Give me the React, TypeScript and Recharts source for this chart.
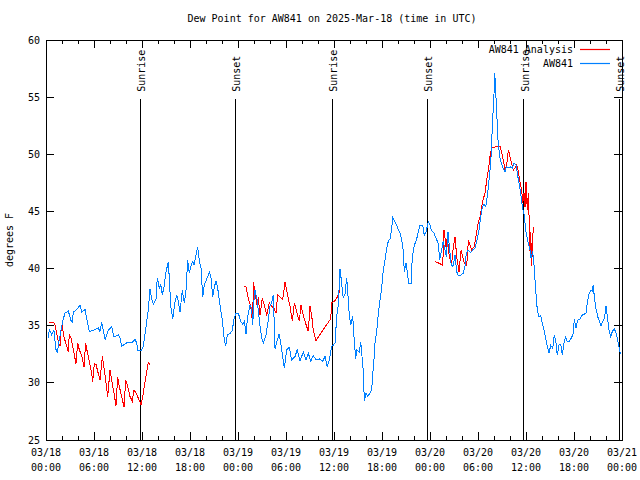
import React from "react";
import {
  LineChart,
  Line,
  XAxis,
  YAxis,
  Legend,
  ReferenceLine,
  ReferenceArea,
} from "recharts";

// hours since 03/18 00:00 UTC, dew point (F)
const aw841Mar18: [number, number][] = [
  [0.29, 33.9], [0.41, 34.7], [0.71, 34.2], [1.0, 34.6], [1.21, 33.0], [1.41, 32.6], [1.66, 33.8], [1.88, 34.6],
  [2.16, 35.6], [2.38, 36.1], [2.79, 36.3], [3.09, 35.5], [3.29, 35.3], [3.41, 36.2], [3.84, 36.4], [4.25, 36.8],
  [4.46, 36.2], [4.88, 36.4], [5.09, 35.6], [5.41, 34.5], [5.91, 34.6], [6.54, 34.8], [6.75, 34.5], [6.96, 35.3],
  [7.38, 33.8], [7.79, 34.6], [8.21, 34.9], [8.5, 34.0], [9.04, 34.2], [9.25, 33.9], [9.46, 33.2], [10.09, 33.5],
  [10.71, 33.5], [11.13, 33.8], [11.34, 33.5], [11.46, 32.8], [11.88, 32.8], [12.16, 33.2], [12.5, 34.9], [12.79, 36.4],
  [13.0, 38.2], [13.21, 37.3], [13.41, 36.9], [13.75, 37.3], [13.91, 39.2], [14.16, 38.3], [14.34, 38.6], [14.54, 37.7],
  [14.75, 38.4], [15.0, 39.7], [15.29, 40.6], [15.41, 39.2], [15.59, 36.7], [15.84, 35.6], [16.13, 37.1], [16.34, 37.7],
  [16.54, 37.1], [16.75, 36.2], [17.04, 38.1], [17.29, 37.0], [17.5, 38.1], [17.71, 40.75], [17.91, 39.6], [18.09, 40.2],
  [18.34, 40.6], [18.5, 40.3], [18.75, 41.2], [18.96, 41.9], [19.16, 40.75], [19.38, 40.0], [19.59, 37.5], [19.79, 38.6],
  [20.0, 38.9], [20.21, 39.3], [20.41, 39.7], [20.63, 39.2], [20.84, 37.5], [21.04, 38.4], [21.25, 38.9], [21.46, 38.3],
  [21.75, 36.8], [22.04, 35.5], [22.25, 34.0], [22.46, 33.2], [22.66, 34.2], [23.0, 34.3], [23.29, 34.6], [23.5, 35.6],
  [23.75, 36.1],
];

const aw841Mar19: [number, number][] = [
  [24.04, 36.1], [24.34, 35.4], [24.59, 35.1], [24.79, 35.4], [25.0, 34.3], [25.21, 35.8], [25.5, 36.8], [25.71, 36.5],
  [25.84, 35.1], [26.04, 37.8], [26.13, 38.1], [26.41, 37.2], [26.66, 35.5], [26.96, 33.9], [27.16, 33.5], [27.5, 34.2],
  [27.79, 35.5], [28.0, 36.7], [28.21, 37.0], [28.41, 37.7], [28.63, 33.0], [28.84, 33.6], [29.16, 34.3], [29.46, 32.9],
  [29.79, 31.3], [30.09, 32.9], [30.41, 33.1], [30.71, 32.0], [31.13, 32.3], [31.41, 32.9], [31.75, 31.9], [32.16, 32.7],
  [32.5, 32.0], [32.79, 32.6], [33.09, 31.9], [33.41, 32.4], [33.75, 32.0], [34.16, 32.1], [34.59, 31.9], [34.88, 32.3],
  [35.16, 31.4], [35.41, 32.0], [35.71, 33.2], [35.91, 33.3], [36.13, 33.5], [36.34, 35.8], [36.54, 36.8], [36.75, 40.0],
  [36.96, 38.7], [37.16, 37.4], [37.38, 37.8], [37.59, 39.2], [37.79, 37.2], [37.91, 35.9], [38.09, 35.1], [38.34, 35.8],
  [38.5, 34.0], [38.71, 32.1], [38.84, 32.9], [39.16, 32.7], [39.34, 33.6], [39.54, 32.0], [39.66, 31.0], [39.79, 28.4],
  [40.0, 29.1], [40.21, 28.8], [40.5, 29.1], [40.71, 29.4], [40.84, 30.7], [41.0, 32.1], [41.13, 33.5], [41.34, 34.5],
  [41.54, 36.1], [41.75, 37.2], [41.96, 38.3], [42.16, 39.9], [42.38, 40.75], [42.59, 41.8], [42.79, 42.4], [43.0, 42.6],
  [43.21, 43.5], [43.34, 44.5], [43.63, 44.1], [43.84, 43.8], [44.04, 43.4], [44.25, 43.1], [44.46, 42.5], [44.66, 41.6],
  [44.79, 39.7], [45.0, 40.5], [45.16, 39.7], [45.34, 38.7], [45.63, 38.7], [45.75, 40.5], [45.91, 41.6], [46.13, 42.2],
  [46.34, 42.6], [46.54, 43.2], [46.75, 43.8], [47.09, 43.8], [47.29, 42.9], [47.5, 43.2], [47.79, 44.1],
];

const aw841Mar20: [number, number][] = [
  [48.0, 43.8], [48.21, 43.3], [48.5, 43.1], [48.79, 42.6], [49.04, 42.2], [49.21, 40.75], [49.41, 41.5], [49.66, 42.4],
  [49.88, 41.6], [50.04, 41.0], [50.25, 43.2], [50.46, 41.6], [50.66, 40.3], [50.88, 40.2], [51.13, 41.2], [51.34, 39.7],
  [51.54, 39.4], [51.84, 39.4], [52.16, 39.6], [52.38, 40.2], [52.54, 41.4], [52.79, 41.6], [53.09, 41.4], [53.29, 41.6],
  [53.63, 41.8], [53.91, 42.6], [54.13, 43.4], [54.34, 44.5], [54.54, 45.4], [54.75, 45.6], [54.96, 45.4], [55.16, 46.3],
  [55.38, 47.75], [55.59, 49.2], [55.79, 52.4], [56.0, 55.3], [56.09, 57.1], [56.21, 55.6], [56.34, 53.6], [56.5, 51.25],
  [56.71, 49.8], [56.91, 49.2], [57.13, 48.8], [57.38, 48.5], [57.54, 48.9], [57.79, 48.8], [58.09, 48.9], [58.29, 48.8],
  [58.5, 49.2], [58.79, 49.05], [58.91, 48.3], [59.13, 47.5], [59.34, 46.6], [59.54, 45.4], [59.75, 44.8], [59.96, 43.4],
  [60.16, 42.6], [60.5, 41.6], [60.63, 40.9], [60.84, 41.5], [61.0, 40.3], [61.21, 38.1], [61.41, 36.4], [61.63, 35.8],
  [61.84, 35.9], [62.04, 35.2], [62.25, 34.6], [62.46, 33.9], [62.66, 33.2], [62.88, 32.6], [63.09, 33.3], [63.34, 33.0],
  [63.54, 34.2], [63.75, 33.5], [63.91, 32.4], [64.13, 33.3], [64.34, 33.4], [64.54, 32.4], [64.75, 33.5], [64.96, 34.0],
  [65.16, 33.6], [65.41, 33.6], [65.71, 34.0], [65.91, 34.3], [66.04, 35.6], [66.25, 34.8], [66.46, 35.5], [66.75, 35.6],
  [66.96, 35.9], [67.25, 36.0], [67.5, 36.1], [67.66, 37.0], [67.88, 37.8], [68.09, 38.1], [68.29, 38.0], [68.41, 38.6],
  [68.54, 37.5], [68.75, 36.5], [68.96, 35.8], [69.16, 35.4], [69.38, 35.0], [69.59, 35.4], [69.79, 35.6], [70.0, 36.7],
  [70.16, 35.8], [70.38, 34.6], [70.59, 34.0], [70.79, 34.5], [71.04, 34.7], [71.25, 34.4], [71.41, 33.9], [71.59, 33.3],
  [71.75, 32.7], [71.9, 32.5],
];

// analysis runs (three separate pieces, gaps between them)
const analysisRun1: [number, number][] = [
  [0.38, 35.3], [0.84, 35.3], [1.09, 35.2], [1.34, 34.3], [1.54, 33.6], [1.75, 33.2], [1.88, 34.6], [2.04, 34.9],
  [2.25, 34.0], [2.59, 33.2], [2.79, 32.7], [2.91, 34.3], [3.13, 33.9], [3.41, 32.9], [3.75, 31.7], [3.96, 33.5],
  [4.16, 32.9], [4.46, 32.4], [4.75, 31.4], [4.96, 33.5], [5.16, 32.7], [5.41, 31.9], [5.71, 30.8], [5.84, 30.1],
  [6.04, 31.7], [6.25, 31.6], [6.54, 30.8], [6.75, 30.25], [7.04, 32.3], [7.25, 31.3], [7.46, 30.25], [7.71, 28.8],
  [8.0, 31.1], [8.21, 30.25], [8.5, 29.1], [8.75, 28.0], [8.96, 30.5], [9.16, 29.7], [9.46, 28.8], [9.75, 27.9],
  [9.96, 30.25], [10.21, 29.7], [10.5, 28.8], [10.79, 28.4], [11.0, 29.4], [11.34, 29.0], [11.63, 28.5], [11.88, 28.1],
  [12.09, 28.8], [12.38, 30.1], [12.59, 31.0], [12.79, 31.8], [13.0, 31.6],
];

const analysisRun2: [number, number][] = [
  [24.79, 38.4], [25.0, 38.4], [25.29, 37.4], [25.59, 36.7], [25.84, 35.1], [25.91, 38.8], [26.13, 38.1], [26.34, 36.8],
  [26.54, 37.5], [26.75, 35.9], [27.04, 37.4], [27.29, 36.8], [27.59, 35.9], [27.91, 37.0], [28.21, 36.7], [28.5, 36.5],
  [28.75, 36.1], [28.96, 37.7], [29.59, 37.3], [29.88, 38.8], [30.16, 37.8], [30.5, 36.7], [30.79, 35.4], [31.04, 37.0],
  [31.34, 36.2], [31.66, 35.4], [31.88, 36.8], [32.16, 35.9], [32.5, 35.1], [32.79, 34.5], [33.0, 36.7], [33.21, 35.9],
  [33.41, 34.6], [33.75, 33.7], [34.04, 34.0], [34.59, 34.6], [35.09, 35.1], [35.59, 35.6], [35.71, 37.0], [36.13, 37.2],
  [36.41, 37.5], [36.75, 38.1],
];

const analysisRun3: [number, number][] = [
  [48.63, 40.6], [49.04, 40.5], [49.59, 40.3], [49.75, 43.4], [50.0, 41.9], [50.16, 42.8], [50.41, 41.0], [50.71, 40.5],
  [50.91, 41.8], [51.13, 42.8], [51.34, 41.0], [51.63, 39.7], [51.88, 41.6], [52.09, 41.0], [52.29, 40.5], [52.59, 40.3],
  [52.79, 42.4], [53.0, 42.1], [53.21, 41.6], [53.5, 41.9], [53.75, 42.8], [54.04, 44.1], [54.25, 44.5], [54.46, 45.4],
  [54.66, 46.1], [54.88, 46.6], [55.09, 47.75], [55.29, 48.6], [55.5, 49.8], [55.71, 50.6], [56.0, 50.6], [56.41, 50.7],
  [56.75, 50.7], [56.96, 50.2], [57.16, 49.5], [57.38, 48.6], [57.59, 49.05], [57.79, 50.4], [58.0, 49.8], [58.21, 49.2],
  [58.41, 48.6], [58.63, 48.8], [58.84, 49.05], [59.04, 48.5], [59.25, 47.6], [59.46, 46.9], [59.59, 45.7], [59.75, 46.6],
  [59.88, 45.4], [60.0, 47.6], [60.16, 45.1], [60.29, 46.6], [60.41, 44.0], [60.5, 41.5], [60.59, 43.2], [60.71, 40.2],
  [60.84, 42.6], [60.91, 43.6],
];

const sunEvents = [
  { t: 11.77, label: "Sunrise" },
  { t: 23.65, label: "Sunset" },
  { t: 35.75, label: "Sunrise" },
  { t: 47.67, label: "Sunset" },
  { t: 59.72, label: "Sunrise" },
  { t: 71.68, label: "Sunset" },
];

const hourTicks = [0, 2, 4, 6, 8, 10, 12, 14, 16, 18, 20, 22, 24, 26, 28, 30, 32, 34, 36, 38, 40, 42, 44, 46, 48, 50, 52, 54, 56, 58, 60, 62, 64, 66, 68, 70, 72];
const dateLabels = ["03/18", "03/18", "03/18", "03/18", "03/19", "03/19", "03/19", "03/19", "03/20", "03/20", "03/20", "03/20", "03/21"];
const timeLabels = ["00:00", "06:00", "12:00", "18:00", "00:00", "06:00", "12:00", "18:00", "00:00", "06:00", "12:00", "18:00", "00:00"];
const dewTicks = [25, 30, 35, 40, 45, 50, 55, 60];

const seriesNames = ["AW841 Analysis", "AW841"];
const seriesColors = ["#ff0000", "#0080ff"];

const FONT = "'DejaVu Sans Mono', monospace";
const PLOT_TOP = 40;
const PLOT_RIGHT = 622;
const SUN_LINE_TOP = 54.85;

const toPoints = (pairs: [number, number][]) => pairs.map(([t, v]) => ({ t, v }));

const observed = [...toPoints(aw841Mar18), ...toPoints(aw841Mar19), ...toPoints(aw841Mar20)];
const analysis = [
  ...toPoints(analysisRun1),
  { t: 18, v: null },
  ...toPoints(analysisRun2),
  { t: 42, v: null },
  ...toPoints(analysisRun3),
];

function XTick(props: any) {
  const { x, y, payload } = props;
  const h = payload.value;
  const major = h % 6 === 0;
  const len = major ? 8 : 4;
  const i = h / 6;
  return (
    <g>
      <line x1={x} y1={y} x2={x} y2={y - len} stroke="#000" />
      <line x1={x} y1={PLOT_TOP} x2={x} y2={PLOT_TOP + len} stroke="#000" />
      {major && (
        <text x={x} y={y + 16} textAnchor="middle" fontFamily={FONT} fontSize={10} fill="#000">
          <tspan x={x}>{dateLabels[i]}</tspan>
          <tspan x={x} dy={15}>{timeLabels[i]}</tspan>
        </text>
      )}
    </g>
  );
}

function YTick(props: any) {
  const { x, y, payload } = props;
  return (
    <g>
      <line x1={x} y1={y} x2={x + 8} y2={y} stroke="#000" />
      <line x1={PLOT_RIGHT} y1={y} x2={PLOT_RIGHT - 8} y2={y} stroke="#000" />
      <text x={x - 6} y={y + 3.5} textAnchor="end" fontFamily={FONT} fontSize={10} fill="#000">
        {payload.value}
      </text>
    </g>
  );
}

function YTitle(props: any) {
  const vb = props.viewBox || { y: 40, height: 400 };
  const x = 13;
  const y = vb.y + vb.height / 2;
  return (
    <text x={x} y={y} transform={`rotate(-90 ${x} ${y})`} textAnchor="middle" fontFamily={FONT} fontSize={10} fill="#000">
      degrees F
    </text>
  );
}

const sunLabel = (text: string) => (props: any) => {
  const vb = props.viewBox;
  const x = vb.x + 5;
  const y = vb.y - 7;
  return (
    <text x={x} y={y} transform={`rotate(-90 ${x} ${y})`} fontFamily={FONT} fontSize={10} fill="#000">
      {text}
    </text>
  );
};

// fixed order: analysis first, like the original key
function LegendBox() {
  return (
    <div style={{ fontFamily: FONT, fontSize: 10, color: "#000" }}>
      {seriesNames.map((name, i) => (
        <div
          key={name}
          style={{ display: "flex", justifyContent: "flex-end", alignItems: "center", height: 14 }}
        >
          <span>{name}</span>
          <svg width={30} height={3} style={{ marginLeft: 7, marginRight: 12, display: "block" }}>
            <line x1={0} y1={1.5} x2={30} y2={1.5} stroke={seriesColors[i]} strokeWidth={1.2} />
          </svg>
        </div>
      ))}
    </div>
  );
}

export default function App() {
  return (
    <div style={{ position: "absolute", left: 0, top: 0, width: 640, height: 480, background: "#fff" }}>
      <style>{`.recharts-surface line, .recharts-surface path, .recharts-surface rect { shape-rendering: crispEdges; }`}</style>
      <div
        style={{
          position: "absolute",
          top: 13,
          left: 0,
          width: 664,
          textAlign: "center",
          fontFamily: FONT,
          fontSize: 10,
          lineHeight: "12px",
        }}
      >
        Dew Point for AW841 on 2025-Mar-18 (time in UTC)
      </div>
      <LineChart width={640} height={480} margin={{ top: 40, right: 18, bottom: 0, left: 0 }}>
        <XAxis
          type="number"
          dataKey="t"
          domain={[0, 72]}
          ticks={hourTicks}
          interval={0}
          height={40}
          tickSize={0}
          tickMargin={0}
          tickLine={false}
          axisLine={false}
          tick={<XTick />}
          allowDataOverflow
        />
        <YAxis
          type="number"
          domain={[25, 60]}
          ticks={dewTicks}
          interval={0}
          width={46}
          tickSize={0}
          tickMargin={0}
          tickLine={false}
          axisLine={false}
          tick={<YTick />}
          label={YTitle}
          allowDataOverflow
        />
        <ReferenceArea x1={0} x2={72} y1={25} y2={60} fill="none" stroke="#000" strokeWidth={1} fillOpacity={0} />
        {sunEvents.map((s, i) => (
          <ReferenceLine
            key={i}
            segment={[{ x: s.t, y: 25 }, { x: s.t, y: SUN_LINE_TOP }]}
            stroke="#000"
            strokeWidth={1}
            label={sunLabel(s.label)}
          />
        ))}
        <Legend
          layout="horizontal"
          verticalAlign="middle"
          align="center"
          wrapperStyle={{ top: 42, left: 440, width: 182, height: 28 }}
          content={<LegendBox />}
        />
        <Line
          data={analysis}
          dataKey="v"
          name={seriesNames[0]}
          type="linear"
          stroke={seriesColors[0]}
          strokeWidth={1}
          dot={false}
          connectNulls={false}
          isAnimationActive={false}
        />
        <Line
          data={observed}
          dataKey="v"
          name={seriesNames[1]}
          type="linear"
          stroke={seriesColors[1]}
          strokeWidth={1}
          dot={false}
          isAnimationActive={false}
        />
      </LineChart>
    </div>
  );
}
